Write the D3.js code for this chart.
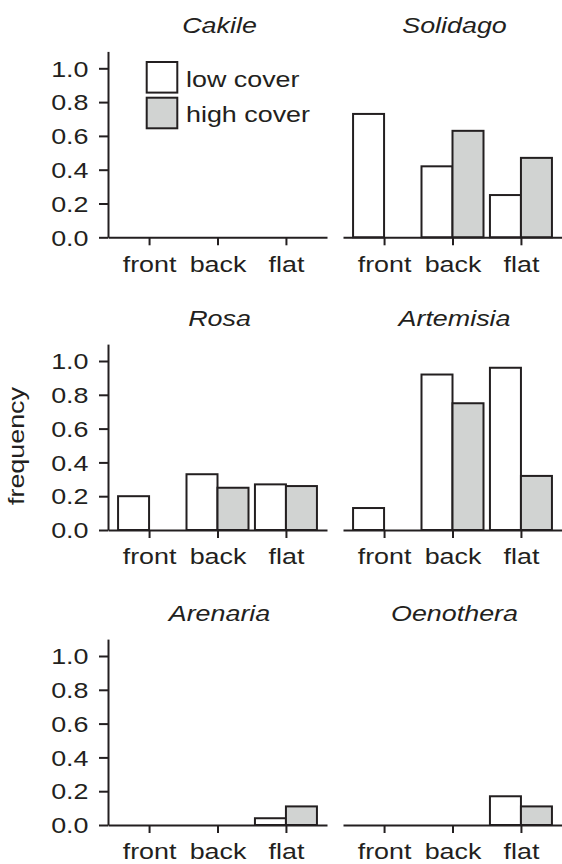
<!DOCTYPE html>
<html>
<head>
<meta charset="utf-8">
<script src="https://cdn.jsdelivr.net/npm/d3@7"></script>
<style>
  html, body { margin: 0; padding: 0; background: #fff; }
  svg { display: block; }
  text { font-family: "Liberation Sans", Arial, Helvetica, sans-serif; fill: #231f20; }
</style>
</head>
<body>
<script>
// ---- data ----
const species = ["Cakile", "Solidago", "Rosa", "Artemisia", "Arenaria", "Oenothera"];
const positions = ["front", "back", "flat"];
const lowCover  = [[0, 0, 0], [0.73, 0.42, 0.25], [0.20, 0.33, 0.27], [0.13, 0.92, 0.96], [0, 0, 0.04], [0, 0, 0.17]];
const highCover = [[0, 0, 0], [0, 0.63, 0.47], [0, 0.25, 0.26], [0, 0.75, 0.32], [0, 0, 0.11], [0, 0, 0.11]];
const yTicks = [0, 0.2, 0.4, 0.6, 0.8, 1.0];
const seriesNames = ["low cover", "high cover"];
const yLabel = "frequency";

// ---- layout ----
const W = 562, H = 864;
const INK = "#231f20", GREY = "#d1d3d2";
const SX = 1.25, FS = 21.5;
const colX = [108, 343];
const panelW = 219;
const rowBase = [237.3, 530, 825];
const unitH = 169;
const barW = 31;

const svg = d3.select("body").append("svg").attr("width", W).attr("height", H);

function label(g, x, y, str, anchor, italic) {
  return g.append("text")
    .attr("transform", `translate(${x},${y}) scale(${SX},1)`)
    .attr("text-anchor", anchor)
    .attr("font-size", FS)
    .attr("font-style", italic ? "italic" : "normal")
    .text(str);
}

species.forEach((sp, i) => {
  const col = i % 2, row = Math.floor(i / 2);
  const x0 = colX[col], base = rowBase[row];
  const x = d3.scalePoint().domain(positions).range([x0, x0 + panelW]).padding(0.6);
  const sub = d3.scaleBand().domain(seriesNames).range([-barW, barW]);
  const y = d3.scaleLinear().domain([0, 1.1]).range([base, base - 1.1 * unitH]);
  const g = svg.append("g");

  const bars = [];
  positions.forEach((p, j) => {
    bars.push({ p, s: seriesNames[0], v: lowCover[i][j] });
    bars.push({ p, s: seriesNames[1], v: highCover[i][j] });
  });
  g.selectAll("rect.bar").data(bars.filter(d => d.v > 0)).join("rect")
    .attr("class", "bar")
    .attr("x", d => x(d.p) + sub(d.s))
    .attr("width", sub.bandwidth())
    .attr("y", d => y(d.v))
    .attr("height", d => y(0) - y(d.v))
    .attr("fill", d => d.s === seriesNames[0] ? "#fff" : GREY)
    .attr("stroke", INK).attr("stroke-width", 2);

  // x axis
  const xa = g.append("g").attr("transform", `translate(0,${y(0)})`)
    .call(d3.axisBottom(x).tickSize(8).tickSizeOuter(0));
  xa.select(".domain").attr("stroke", INK).attr("stroke-width", 2);
  xa.selectAll(".tick line").attr("stroke", INK).attr("stroke-width", 2);
  xa.selectAll(".tick text")
    .attr("y", null).attr("dy", null)
    .attr("transform", `translate(0,34.4) scale(${SX},1)`)
    .attr("font-size", FS).attr("font-family", null).attr("fill", INK);

  // y axis on left panels
  if (col === 0) {
    const ya = g.append("g").attr("transform", `translate(${x0},0)`)
      .call(d3.axisLeft(y).tickValues(yTicks).tickFormat(d3.format(".1f")).tickSize(9).tickSizeOuter(0));
    ya.select(".domain").attr("stroke", INK).attr("stroke-width", 2);
    ya.selectAll(".tick line").attr("stroke", INK).attr("stroke-width", 2);
    ya.selectAll(".tick text")
      .attr("x", null).attr("dy", "0.36em")
      .attr("transform", `translate(-19.5,0) scale(${SX},1)`)
      .attr("font-size", FS).attr("font-family", null).attr("fill", INK);
  }

  // title
  label(g, x(positions[1]) + 2, base - 204, sp, "middle", true);
});

// y label
svg.append("text")
  .attr("transform", `translate(24,446) rotate(-90) scale(${SX},1)`)
  .attr("text-anchor", "middle")
  .attr("font-size", FS)
  .text(yLabel);

// legend
const leg = svg.append("g");
const legFill = ["#fff", GREY];
const legBoxY = [62, 97.7];
const legTextY = [87.3, 121.7];
seriesNames.forEach((s, k) => {
  leg.append("rect").attr("x", 146.7).attr("y", legBoxY[k]).attr("width", 30.6).attr("height", 30.6)
    .attr("fill", legFill[k]).attr("stroke", INK).attr("stroke-width", 2);
  label(leg, 186, legTextY[k], s, "start", false);
});
</script>
</body>
</html>
